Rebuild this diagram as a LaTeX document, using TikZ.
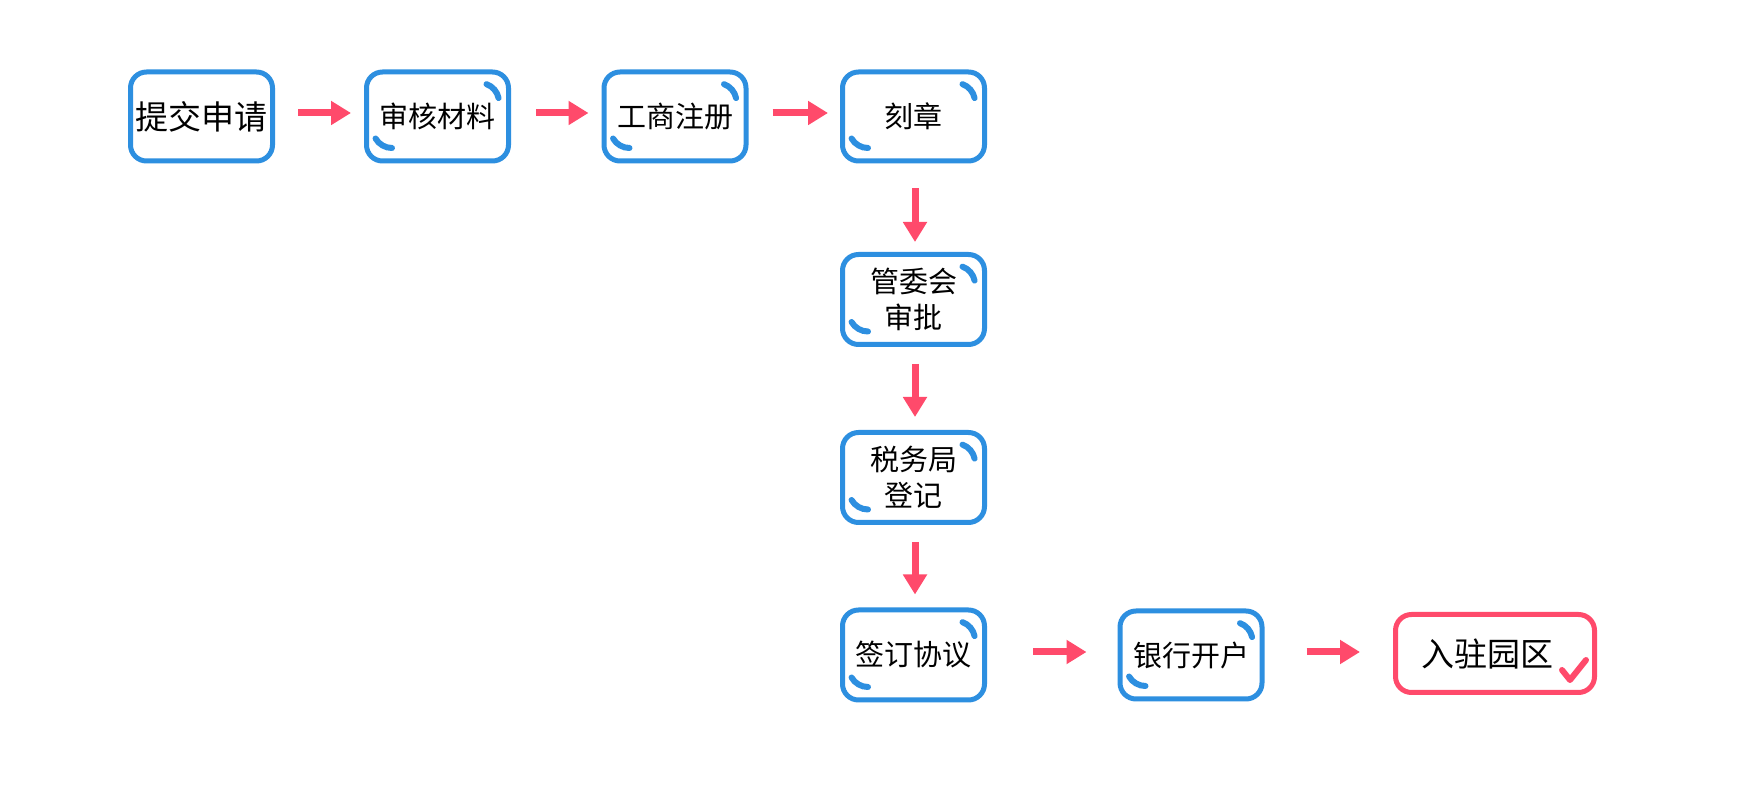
\documentclass[tikz,border=0pt]{standalone}
\usepackage{fontspec}
\newfontfamily\cjk{Noto Sans CJK SC}
\usetikzlibrary{calc,arrows.meta}
\definecolor{bblue}{HTML}{2D8FE0}
\definecolor{bpink}{HTML}{FF4A6B}
\tikzset{
  stepbox/.style={draw=bblue, line width=2.5pt, rounded corners=8pt,
    minimum width=71pt, minimum height=44.5pt, inner sep=0pt, outer sep=0pt,
    align=center, fill=white, font=\cjk\fontsize{14.5pt}{18pt}\selectfont},
  bigtxt/.style={font=\cjk\fontsize{16.5pt}{20pt}\selectfont},
  endbox/.style={stepbox, draw=bpink, minimum width=99.5pt, minimum height=39pt},
  flow/.style={draw=bpink, line width=3.5pt, -{Triangle[length=10pt,width=11.5pt]}},
  deco/.style={draw=bblue, line width=3pt, line cap=round},
  tick/.style={draw=bpink, line width=3pt, line cap=round, line join=round},
}
\newcommand{\cornerarcs}[1]{%
  \draw[deco] ($(#1.north east)+(-28.5,30)$) ++(12:9.5pt) arc[start angle=12,end angle=70,radius=9.5pt];
  \draw[deco] ($(#1.south west)+(25.5,-32)$) ++(210:9.5pt) arc[start angle=210,end angle=270,radius=9.5pt];
}
\begin{document}
\begin{tikzpicture}[x=0.5pt,y=-0.5pt]
\useasboundingbox[fill=white] (0,0) rectangle (1752,801);
% top row
\node[stepbox,bigtxt] (b1) at (201.5,116.5) {提交申请};
\node[stepbox] (b2) at (437.5,116.5) {审核材料};
\node[stepbox] (b3) at (675,116.5) {工商注册};
\node[stepbox] (b4) at (913.5,116.5) {刻章};
% column
\node[stepbox, minimum height=45pt] (b5) at (913.5,299.5) {管委会\\审批};
\node[stepbox, minimum height=45pt] (b6) at (913.5,477.5) {税务局\\登记};
\node[stepbox, minimum height=45pt] (b7) at (913.5,655) {签订协议};
% bottom row
\node[stepbox, minimum height=44pt] (b8) at (1191,655) {银行开户};
\node[endbox,bigtxt] (b9) at (1495,653.5) {入驻园区\kern8pt};
% decorations
\cornerarcs{b2}
\cornerarcs{b3}
\cornerarcs{b4}
\cornerarcs{b5}
\cornerarcs{b6}
\cornerarcs{b7}
\cornerarcs{b8}
\draw[tick] ($(b9.south east)+(-32.5,-22.5)$) -- ($(b9.south east)+(-24.5,-12.5)$) -- ($(b9.south east)+(-8.5,-32.5)$);
% connectors
\draw[flow, shorten <=12.75pt, shorten >=7.75pt] ([yshift=1.75pt]b1.east) -- ([yshift=1.75pt]b2.west);
\draw[flow, shorten <=13.75pt, shorten >=7.75pt] ([yshift=1.75pt]b2.east) -- ([yshift=1.75pt]b3.west);
\draw[flow, shorten <=13.25pt, shorten >=7.25pt] ([yshift=1.75pt]b3.east) -- ([yshift=1.75pt]b4.west);
\draw[flow, shorten <=13.75pt, shorten >=6.25pt] ([xshift=0.75pt]b4.south) -- ([xshift=0.75pt]b5.north);
\draw[flow, shorten <=9.75pt, shorten >=7.75pt] ([xshift=0.75pt]b5.south) -- ([xshift=0.75pt]b6.north);
\draw[flow, shorten <=9.75pt, shorten >=7.75pt] ([xshift=0.75pt]b6.south) -- ([xshift=0.75pt]b7.north);
\draw[flow, shorten <=24.25pt, shorten >=16.75pt] ([yshift=1.5pt]b7.east) -- ([yshift=1.5pt]b8.west);
\draw[flow, shorten <=22.25pt, shorten >=17.75pt] ([yshift=1.5pt]b8.east) -- ([yshift=1.5pt]b8.east -| b9.west);
\end{tikzpicture}
\end{document}
